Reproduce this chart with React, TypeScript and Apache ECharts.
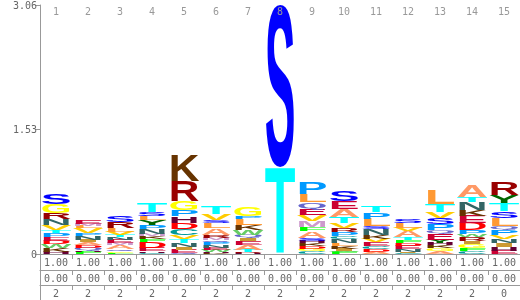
import React, { useEffect, useRef } from "react";
import * as echarts from "echarts";

// Position labels (top axis)
const positions = ["1","2","3","4","5","6","7","8","9","10","11","12","13","14","15"];
// Table rows under the logo
const rowA = ["1.00","1.00","1.00","1.00","1.00","1.00","1.00","1.00","1.00","1.00","1.00","1.00","1.00","1.00","1.00"];
const rowB = ["0.00","0.00","0.00","0.00","0.00","0.00","0.00","0.00","0.00","0.00","0.00","0.00","0.00","0.00","0.00"];
const rowC = ["2","2","2","2","2","2","2","2","2","2","2","2","2","2","0"];
// Y axis ticks
const yTicks = [0, 1.53, 3.06];

// Letters in each column, bottom to top
const stackLetters = [
  "HKWDEPTVNRGS",
  "FHQDAINPVLME",
  "FGQAMENTVLRS",
  "CHEDFKMNPYLST",
  "QEINTVCDHPGRK",
  "KHWENPQMRALSVT",
  "HRTAEIQWKLPG",
  "TS",
  "CGDKHSAFMVEQLP",
  "FWIKLNCPRVTAES",
  "ADCEVKNSLPT",
  "CINEDFTAVLS",
  "AGKHYEQPSVTL",
  "CFGIRWPDEKNTA",
  "EHINVPQLSTYR",
];
// Letter heights in bits, same order
const stackBits = [
  [0.024,0.049,0.049,0.043,0.043,0.049,0.037,0.061,0.073,0.073,0.110,0.134],
  [0.024,0.012,0.037,0.037,0.037,0.024,0.049,0.037,0.061,0.024,0.024,0.049],
  [0.018,0.018,0.024,0.049,0.024,0.037,0.037,0.024,0.037,0.049,0.073,0.073],
  [0.018,0.018,0.037,0.073,0.037,0.037,0.024,0.061,0.049,0.061,0.049,0.049,0.110],
  [0.012,0.037,0.037,0.049,0.049,0.049,0.073,0.073,0.085,0.073,0.110,0.256,0.317],
  [0.012,0.012,0.024,0.024,0.037,0.037,0.024,0.024,0.037,0.085,0.061,0.037,0.073,0.098],
  [0.012,0.012,0.024,0.061,0.049,0.037,0.037,0.061,0.061,0.073,0.037,0.110],
  [1.06,2.0],
  [0.037,0.024,0.037,0.037,0.024,0.037,0.085,0.049,0.073,0.073,0.073,0.085,0.098,0.146],
  [0.024,0.012,0.024,0.037,0.037,0.049,0.037,0.049,0.049,0.061,0.073,0.098,0.098,0.122],
  [0.024,0.037,0.037,0.049,0.037,0.049,0.073,0.037,0.085,0.085,0.085],
  [0.012,0.012,0.037,0.037,0.037,0.037,0.037,0.073,0.037,0.061,0.049],
  [0.037,0.037,0.037,0.024,0.037,0.073,0.049,0.073,0.073,0.073,0.098,0.171],
  [0.037,0.037,0.049,0.037,0.049,0.037,0.049,0.085,0.085,0.073,0.098,0.061,0.134],
  [0.037,0.049,0.049,0.049,0.049,0.061,0.049,0.098,0.085,0.098,0.098,0.159],
];

const letterColors: Record<string, string> = {
  A: "#FF9966", C: "#009999", D: "#FF0000", E: "#CC0033", F: "#00FF00",
  G: "#FFFF00", H: "#660033", I: "#CC9933", K: "#663300", L: "#FF9933",
  M: "#CC99CC", N: "#336666", P: "#0099FF", Q: "#6666CC", R: "#990000",
  S: "#0000FF", T: "#00FFFF", V: "#FFCC00", W: "#66CC66", Y: "#006600",
};

const FONT = 'bold 100px "Liberation Sans"';
const metricCache: Record<string, any> = {};
function measure(ch: string) {
  if (metricCache[ch]) return metricCache[ch];
  const ctx = document.createElement("canvas").getContext("2d")!;
  ctx.font = FONT;
  ctx.textAlign = "center";
  ctx.textBaseline = "alphabetic";
  const m = ctx.measureText(ch);
  const r = {
    adv: m.width,
    asc: m.actualBoundingBoxAscent,
    desc: m.actualBoundingBoxDescent,
    cen: ((m as any).fontBoundingBoxAscent - (m as any).fontBoundingBoxDescent) / 2,
  };
  metricCache[ch] = r;
  return r;
}

export default function App() {
  const ref = useRef<HTMLDivElement>(null);
  useEffect(() => {
    const chart = echarts.init(ref.current!, null, { renderer: "svg" });
    const data: any[] = [];
    stackLetters.forEach((letters, ci) => {
      let base = 0;
      letters.split("").forEach((ch, li) => {
        const h = stackBits[ci][li];
        data.push({ value: [ci, base, base + h], letter: ch });
        base += h;
      });
    });

    const labelFont = { fontFamily: "DejaVu Sans Mono", fontSize: 10, color: "#666" };
    const bottomAxis = (labels: string[], offset: number) => ({
      type: "category",
      data: labels,
      position: "bottom",
      offset,
      boundaryGap: true,
      axisLine: { show: true, lineStyle: { color: "#999" } },
      axisTick: { show: true, length: 5, lineStyle: { color: "#999" } },
      axisLabel: { ...labelFont, margin: 3, interval: 0 },
    });

    chart.setOption({
      animation: false,
      grid: { left: 40, right: 0, top: 1, bottom: 46 },
      xAxis: [
        {
          type: "category",
          data: positions,
          position: "top",
          z: 10,
          axisLine: { show: true, lineStyle: { color: "#999" } },
          axisTick: { show: true, inside: true, length: 5, lineStyle: { color: "#999" } },
          axisLabel: { inside: true, margin: 1, interval: 0, fontFamily: "DejaVu Sans Mono", fontSize: 10, color: "#999" },
        },
        bottomAxis(rowA, 0),
        bottomAxis(rowB, 16),
        bottomAxis(rowC, 31),
      ],
      yAxis: {
        type: "value",
        min: 0,
        max: yTicks[2],
        interval: yTicks[1],
        splitLine: { show: false },
        axisLine: { show: true, lineStyle: { color: "#999" } },
        axisTick: { show: true, length: 5, lineStyle: { color: "#999" } },
        axisLabel: {
          ...labelFont,
          margin: 3,
          formatter: (v: number) => (v === 0 ? "0" : v.toFixed(2)),
        },
      },
      graphic: [
        { type: "line", shape: { x1: 40.5, y1: 253, x2: 40.5, y2: 300 }, style: { stroke: "#999", lineWidth: 1 } },
      ],
      series: [
        {
          type: "custom",
          xAxisIndex: 1,
          data,
          renderItem: (params: any, api: any) => {
            const item = data[params.dataIndex];
            const ch = item.letter;
            const c = api.value(0);
            const p0 = api.coord([c, api.value(1)]);
            const p1 = api.coord([c, api.value(2)]);
            const bw = api.size([1, 0])[0];
            const h = p0[1] - p1[1];
            if (h < 0.2) return null;
            const m = measure(ch);
            const sx = (bw * 0.96) / m.adv;
            const sy = h / (m.asc + m.desc);
            const top = m.cen - m.asc;
            return {
              type: "text",
              x: p0[0],
              y: p1[1] - top * sy,
              scaleX: sx,
              scaleY: sy,
              style: {
                text: ch,
                x: 0,
                y: 0,
                font: FONT,
                align: "center",
                verticalAlign: "middle",
                fill: letterColors[ch],
              },
            };
          },
        },
      ],
    });
    return () => chart.dispose();
  }, []);
  return <div ref={ref} style={{ position: "fixed", left: 0, top: 0, width: 520, height: 300 }} />;
}
